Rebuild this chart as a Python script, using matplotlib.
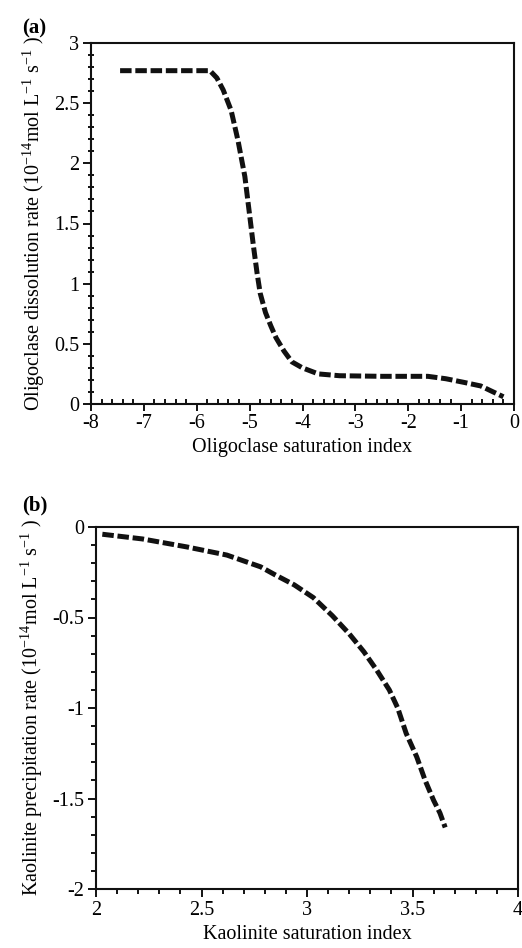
import matplotlib
matplotlib.use("Agg")
import matplotlib.pyplot as plt
from matplotlib.ticker import MultipleLocator, FormatStrFormatter

plt.rcParams["font.family"] = ["Liberation Serif", "DejaVu Serif"]
plt.rcParams["mathtext.fontset"] = "custom"
plt.rcParams["mathtext.rm"] = "Liberation Serif"
plt.rcParams["mathtext.it"] = "Liberation Serif"
plt.rcParams["mathtext.default"] = "regular"
plt.rcParams["axes.unicode_minus"] = False

# (a) oligoclase dissolution rate vs saturation index
olig_si = [-7.45, -5.75, -5.62, -5.5, -5.35, -5.22, -5.09, -5.0, -4.93, -4.86,
           -4.8, -4.7, -4.6, -4.5, -4.35, -4.2, -4.0, -3.7, -3.3, -2.5, -1.63,
           -1.29, -0.95, -0.63, -0.44, -0.2]
olig_rate = [2.77, 2.77, 2.71, 2.61, 2.44, 2.19, 1.89, 1.57, 1.32, 1.09,
             0.92, 0.76, 0.65, 0.55, 0.44, 0.35, 0.30, 0.25, 0.235, 0.23, 0.23,
             0.21, 0.18, 0.15, 0.11, 0.06]

# (b) kaolinite precipitation rate vs saturation index
kaol_si = [2.03, 2.22, 2.43, 2.62, 2.78, 2.85, 2.94, 3.03, 3.12, 3.20, 3.27,
           3.33, 3.39, 3.43, 3.47, 3.52, 3.56, 3.60, 3.63, 3.655]
kaol_rate = [-0.04, -0.066, -0.11, -0.155, -0.22, -0.265, -0.32, -0.39, -0.49,
             -0.59, -0.69, -0.79, -0.90, -1.0, -1.14, -1.27, -1.40, -1.51,
             -1.58, -1.66]

FS = 14.5
fig = plt.figure(figsize=(5.22, 9.48), dpi=100)
ax_a = fig.add_axes([91 / 522, 1 - 404 / 948, 423 / 522, 361 / 948])
ax_b = fig.add_axes([96 / 522, 1 - 889 / 948, 422 / 522, 362 / 948])

line_kw = dict(color="#111111", linewidth=3.6, dashes=(2.3, 0.75),
               solid_capstyle="butt", dash_capstyle="butt")

ax_a.plot(olig_si, olig_rate, **line_kw)
ax_a.set_xlim(-8, 0)
ax_a.set_ylim(0, 3)
ax_a.xaxis.set_major_locator(MultipleLocator(1))
ax_a.xaxis.set_minor_locator(MultipleLocator(0.2))
ax_a.yaxis.set_major_locator(MultipleLocator(0.5))
ax_a.yaxis.set_minor_locator(MultipleLocator(0.1))
ax_a.xaxis.set_major_formatter(FormatStrFormatter("%g"))
ax_a.yaxis.set_major_formatter(FormatStrFormatter("%g"))
ax_a.tick_params(axis="x", which="major", direction="out", length=5, width=1.3,
                 labelsize=FS, pad=2)
ax_a.tick_params(axis="x", which="minor", direction="in", length=3.5, width=1.3)
ax_a.tick_params(axis="y", which="major", direction="out", length=5.5, width=1.3,
                 labelsize=FS, pad=3)
ax_a.tick_params(axis="y", which="minor", direction="inout", length=5, width=1.3)
ax_a.set_xlabel("Oligoclase saturation index", fontsize=FS, labelpad=4)
ax_a.set_ylabel("Oligoclase dissolution rate (10$^{-14}$mol L$^{-1}$ s$^{-1}$ )",
                fontsize=FS, labelpad=5)
ax_a.text(22, 948 - 33, "(a)", transform=None, fontsize=15, fontweight="bold",
          ha="left", va="baseline")

ax_b.plot(kaol_si, kaol_rate, **line_kw)
ax_b.set_xlim(2, 4)
ax_b.set_ylim(-2, 0)
ax_b.xaxis.set_major_locator(MultipleLocator(0.5))
ax_b.xaxis.set_minor_locator(MultipleLocator(0.1))
ax_b.yaxis.set_major_locator(MultipleLocator(0.5))
ax_b.yaxis.set_minor_locator(MultipleLocator(0.1))
ax_b.xaxis.set_major_formatter(FormatStrFormatter("%g"))
ax_b.yaxis.set_major_formatter(FormatStrFormatter("%g"))
ax_b.tick_params(which="major", direction="out", length=5.5, width=1.3,
                 labelsize=FS, pad=3)
ax_b.tick_params(which="minor", direction="out", length=3.3, width=1.3)
ax_b.set_xlabel("Kaolinite saturation index", fontsize=FS, labelpad=4)
ax_b.set_ylabel("Kaolinite precipitation rate (10$^{-14}$mol L$^{-1}$ s$^{-1}$ )",
                fontsize=FS, labelpad=5)
ax_b.text(22, 948 - 510, "(b)", transform=None, fontsize=15, fontweight="bold",
          ha="left", va="baseline")

for ax in (ax_a, ax_b):
    for sp in ax.spines.values():
        sp.set_linewidth(1.5)
        sp.set_color("#111111")

fig.savefig("out.png", dpi=100)
